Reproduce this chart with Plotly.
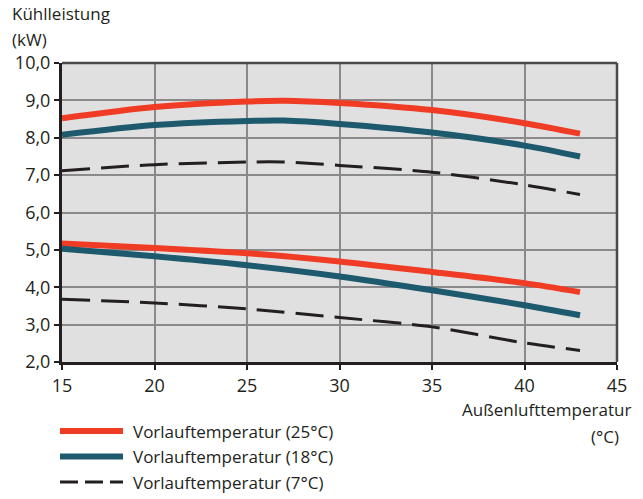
import plotly.graph_objects as go

# Outdoor air temperature (°C) sample points
temp_upper = [15, 20, 25, 27, 30, 35, 40, 43]
temp_lower = [15, 20, 25, 30, 35, 40, 43]

# Cooling capacity (kW), upper curve family
red_upper = [8.52, 8.82, 8.97, 8.99, 8.93, 8.74, 8.39, 8.11]
teal_upper = [8.08, 8.34, 8.45, 8.46, 8.37, 8.14, 7.79, 7.50]
dash_upper = [7.12, 7.28, 7.35, 7.35, 7.26, 7.08, 6.74, 6.48]

# Cooling capacity (kW), lower curve family
red_lower = [5.17, 5.05, 4.91, 4.69, 4.41, 4.11, 3.87]
teal_lower = [5.03, 4.83, 4.59, 4.29, 3.92, 3.52, 3.25]
dash_lower = [3.68, 3.58, 3.42, 3.19, 2.94, 2.51, 2.31]

x_ticks = [15, 20, 25, 30, 35, 40, 45]
y_ticks = [2, 3, 4, 5, 6, 7, 8, 9, 10]

legend_labels = ["Vorlauftemperatur (25°C)", "Vorlauftemperatur (18°C)", "Vorlauftemperatur (7°C)"]

RED = "#f03c24"
TEAL = "#1e5a6e"
DARK = "#231f20"
FONT = "Open Sans"

# plot area geometry (px) used to place the free-standing texts
L, T, W, H = 62, 63, 555, 299


def px(xp):
    return (xp - L) / W


def py(yp):
    return 1 - (yp - T) / H


fig = go.Figure()

series = [
    (temp_upper, red_upper, RED, 6, "solid"),
    (temp_upper, teal_upper, TEAL, 6, "solid"),
    (temp_upper, dash_upper, DARK, 3, "28px,11px"),
    (temp_lower, red_lower, RED, 6, "solid"),
    (temp_lower, teal_lower, TEAL, 6, "solid"),
    (temp_lower, dash_lower, DARK, 3, "28px,11px"),
]
for xs, ys, col, w, dash in series:
    fig.add_trace(go.Scatter(
        x=xs, y=ys, mode="lines",
        line=dict(color=col, width=w, dash=dash, shape="spline", smoothing=0.8),
        showlegend=False, hoverinfo="skip",
    ))

fig.update_layout(
    width=643, height=499,
    margin=dict(l=L, r=643 - L - W, t=T, b=499 - T - H),
    paper_bgcolor="white",
    plot_bgcolor="#e0e0e0",
    separators=",.",
    font=dict(family=FONT, color=DARK),
    xaxis=dict(
        range=[15, 45], tickvals=x_ticks, ticks="outside", ticklen=5,
        tickcolor=DARK, tickwidth=1.5,
        tickfont=dict(size=18, color=DARK, family=FONT),
        showgrid=True, gridcolor="#8a8a8a", gridwidth=1.5,
        showline=True, linecolor=DARK, linewidth=3, zeroline=False,
    ),
    yaxis=dict(
        range=[2, 10], tickvals=y_ticks, tickformat=".1f", ticks="outside",
        ticklen=5, tickcolor=DARK, tickwidth=1.5,
        tickfont=dict(size=18, color=DARK, family=FONT),
        showgrid=True, gridcolor="#8a8a8a", gridwidth=1.5,
        showline=True, linecolor=DARK, linewidth=3, zeroline=False,
    ),
)

# Top and right frame of the plotting area
fig.add_shape(type="line", xref="paper", yref="paper", x0=0, x1=1, y0=1, y1=1,
              line=dict(color="#4a4a4a", width=2.5))
fig.add_shape(type="line", xref="paper", yref="paper", x0=1, x1=1, y0=0, y1=1,
              line=dict(color="#4a4a4a", width=2.5))

text_font = dict(size=17, color=DARK, family=FONT)

# Axis titles
for txt, xp, yp, anchor in [
    ("Kühlleistung", 11, 14, "left"),
    ("(kW)", 11, 39, "left"),
    ("Außenlufttemperatur", 632, 410, "right"),
    ("(°C)", 620, 436, "right"),
]:
    fig.add_annotation(text=txt, xref="paper", yref="paper", x=px(xp), y=py(yp),
                       xanchor=anchor, yanchor="middle", showarrow=False,
                       borderpad=0, font=text_font)

# Legend drawn below the chart
legend_styles = [(RED, 6, "solid"), (TEAL, 6, "solid"), (DARK, 3, "18px,7px")]
for i, (label, (col, w, dash)) in enumerate(zip(legend_labels, legend_styles)):
    y_px = 431 + i * 25.5
    fig.add_shape(type="line", xref="paper", yref="paper",
                  x0=px(60), x1=px(123), y0=py(y_px), y1=py(y_px),
                  line=dict(color=col, width=w, dash=dash))
    fig.add_annotation(text=label, xref="paper", yref="paper",
                       x=px(131), y=py(y_px), xanchor="left", yanchor="middle",
                       showarrow=False, font=text_font)

fig.write_html("out.html")
